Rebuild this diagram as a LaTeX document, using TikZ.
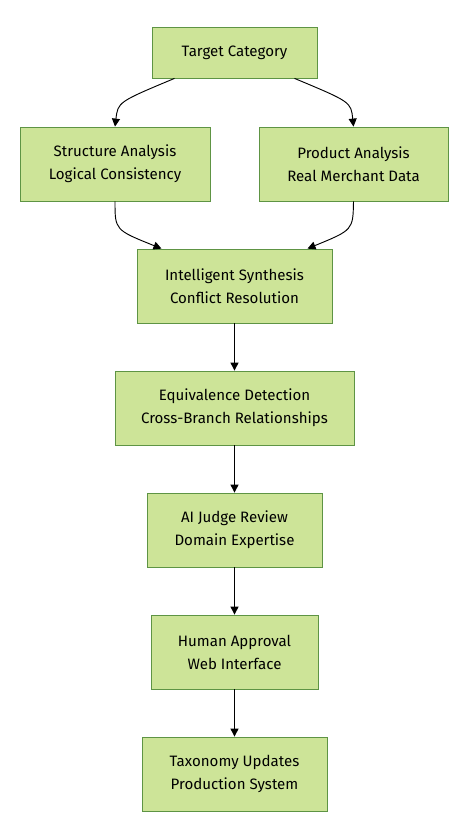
\documentclass[tikz,border=0pt]{standalone}
\usepackage{fontspec}
\setmainfont{Fira Sans}
\usetikzlibrary{arrows.meta,positioning}
\definecolor{boxfill}{HTML}{CDE498}
\definecolor{boxline}{HTML}{5E9444}
\tikzset{
  stage/.style={draw=boxline, fill=boxfill, line width=0.6pt, align=center,
    inner sep=0pt, font=\fontsize{11.3}{17.2}\selectfont},
  flow/.style={draw=black, line width=0.7pt, -{Triangle[length=6pt,width=6pt]}}
}
\begin{document}
\begin{tikzpicture}[x=0.75pt, y=-0.75pt]
\useasboundingbox (0,0) rectangle (470,840);
% pipeline stages
\node[stage, minimum width=165*0.75pt, minimum height=51*0.75pt] (target) at (234.5,52.5) {Target Category};
\node[stage, minimum width=190*0.75pt, minimum height=74*0.75pt] (structure) at (115,164) {Structure Analysis\\Logical Consistency};
\node[stage, minimum width=189*0.75pt, minimum height=74*0.75pt] (product) at (353.5,164) {Product Analysis\\Real Merchant Data};
\node[stage, minimum width=195*0.75pt, minimum height=74*0.75pt] (synthesis) at (234.5,286) {Intelligent Synthesis\\Conflict Resolution};
\node[stage, minimum width=239*0.75pt, minimum height=74*0.75pt] (equiv) at (234.5,408) {Equivalence Detection\\Cross-Branch Relationships};
\node[stage, minimum width=175*0.75pt, minimum height=74*0.75pt] (judge) at (234.5,530) {AI Judge Review\\Domain Expertise};
\node[stage, minimum width=167*0.75pt, minimum height=74*0.75pt] (human) at (234.5,652) {Human Approval\\Web Interface};
\node[stage, minimum width=185*0.75pt, minimum height=74*0.75pt] (updates) at (234.5,774) {Taxonomy Updates\\Production System};

% branching
\draw[flow] ([xshift=-60*0.75pt]target.south) .. controls (118,102) .. (structure.north);
\draw[flow] ([xshift=60*0.75pt]target.south) .. controls (351,102) .. (product.north);
\draw[flow] (structure.south) .. controls (115,230) .. ([xshift=-73*0.75pt]synthesis.north);
\draw[flow] (product.south) .. controls (353,230) .. ([xshift=73*0.75pt]synthesis.north);

% straight chain
\draw[flow] (synthesis) -- (equiv);
\draw[flow] (equiv) -- (judge);
\draw[flow] (judge) -- (human);
\draw[flow] (human) -- (updates);
\end{tikzpicture}
\end{document}
